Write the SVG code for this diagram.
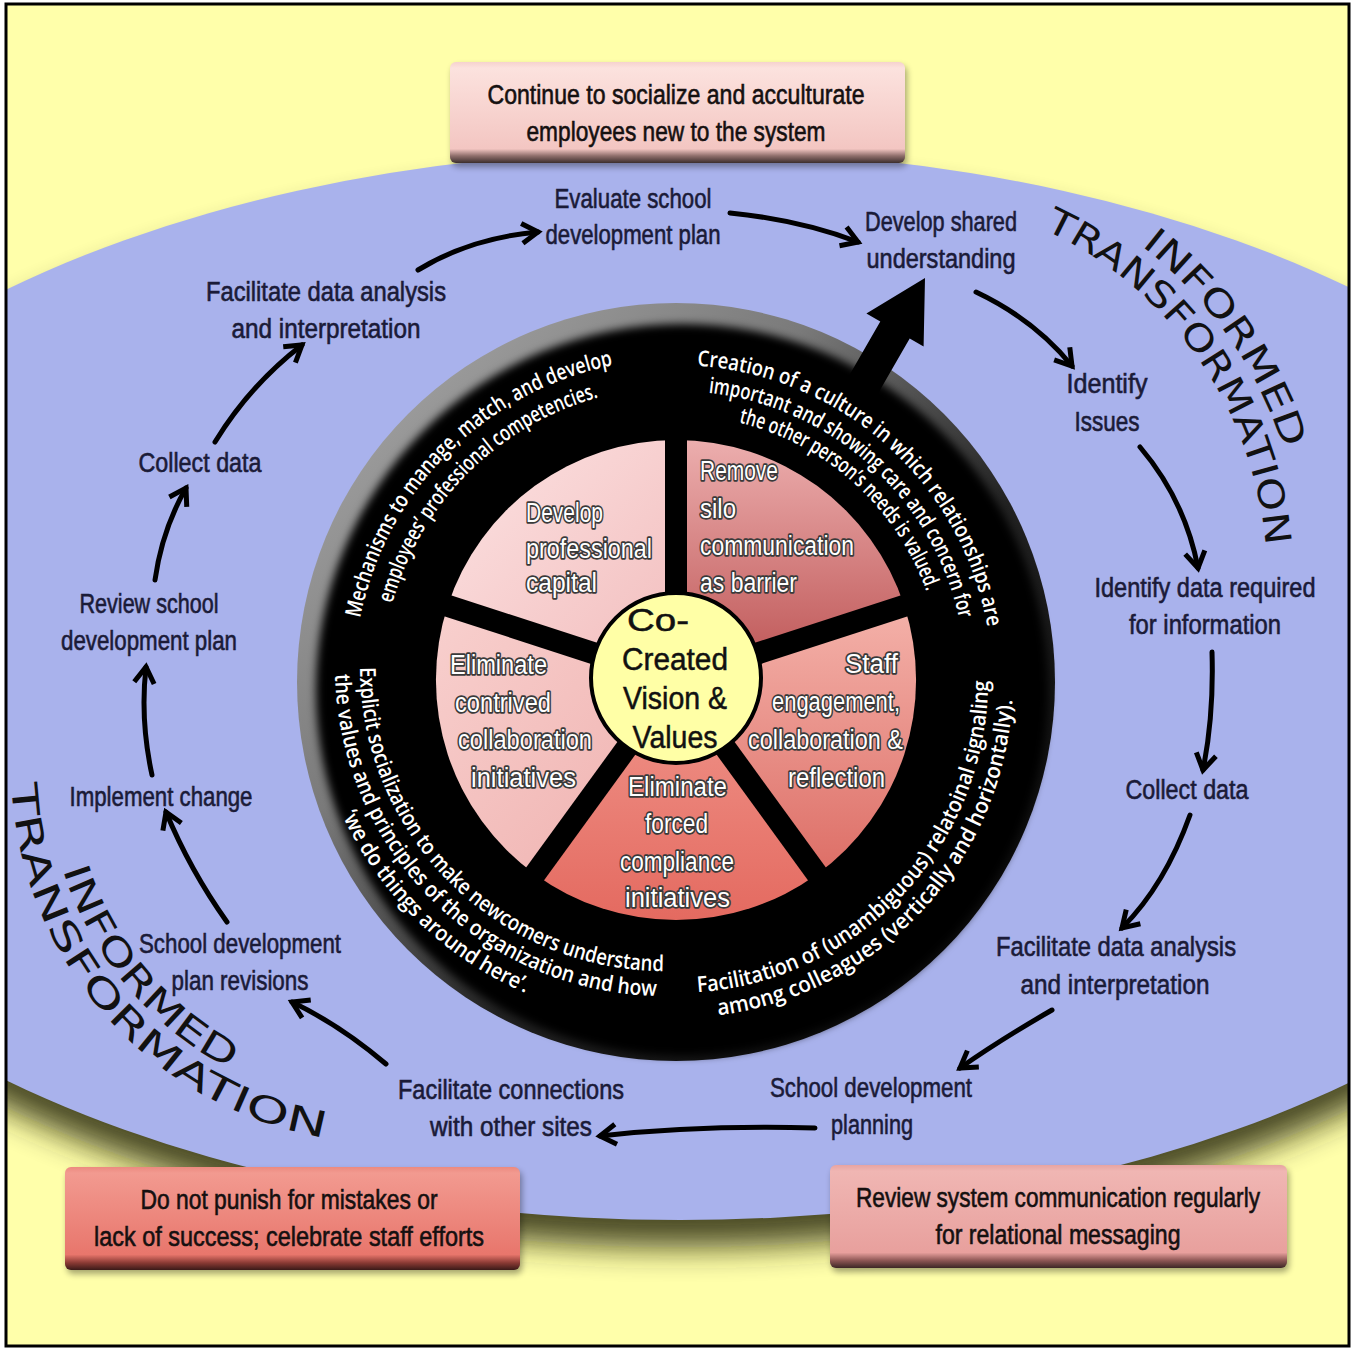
<svg xmlns="http://www.w3.org/2000/svg" width="1362" height="1350" viewBox="0 0 1362 1350">
<style>
.lbl{font-family:'Liberation Sans Narrow','Liberation Sans',sans-serif;font-size:27px;fill:#1b1b38;stroke:#1b1b38;stroke-width:0.6;text-anchor:middle}
.bx{font-family:'Liberation Sans Narrow','Liberation Sans',sans-serif;font-size:27px;fill:#151010;stroke:#151010;stroke-width:0.6;text-anchor:middle}
.ring{font-family:'Open Sans','Liberation Sans',sans-serif;font-size:22px;font-weight:600;fill:#fff;text-anchor:middle}
.wg{font-family:'Liberation Sans',sans-serif;font-size:27px;fill:#fff;stroke:#3a3a3a;stroke-width:3.5;paint-order:stroke;stroke-linejoin:round}
.ctr{font-family:'Liberation Sans',sans-serif;font-size:31px;fill:#111;stroke:#111;stroke-width:0.5}
.it{font-family:'DejaVu Sans',sans-serif;font-size:36px;fill:#111;text-anchor:middle}
.arr{fill:none;stroke:#000;stroke-width:5;stroke-linecap:round;marker-end:url(#chev)}
</style>
<defs>
<clipPath id="frame"><rect x="6" y="4" width="1343" height="1342"/></clipPath>
<filter id="blur18" x="-10%" y="-10%" width="120%" height="130%"><feGaussianBlur stdDeviation="16"/></filter>
<filter id="blur4"><feGaussianBlur stdDeviation="4"/></filter>
<filter id="blur3" x="-10%" y="-20%" width="120%" height="150%"><feGaussianBlur stdDeviation="3"/></filter>
<linearGradient id="gTop" x1="0" y1="0" x2="0" y2="1"><stop offset="0" stop-color="#F6D2CE"/><stop offset="0.06" stop-color="#FCE2DE"/><stop offset="0.86" stop-color="#F3C6C2"/><stop offset="0.93" stop-color="#8E6E6B"/><stop offset="1" stop-color="#3C2E2D"/></linearGradient>
<linearGradient id="gLeft" x1="0" y1="0" x2="0" y2="1"><stop offset="0" stop-color="#EC8A80"/><stop offset="0.06" stop-color="#F29A90"/><stop offset="0.85" stop-color="#E8766C"/><stop offset="0.93" stop-color="#8A3A34"/><stop offset="1" stop-color="#3A1A18"/></linearGradient>
<linearGradient id="gRight" x1="0" y1="0" x2="0" y2="1"><stop offset="0" stop-color="#E8A4A2"/><stop offset="0.06" stop-color="#F0B6B3"/><stop offset="0.85" stop-color="#E8A09D"/><stop offset="0.93" stop-color="#8A5452"/><stop offset="1" stop-color="#3C2625"/></linearGradient>
<linearGradient id="gRim" x1="0" y1="0" x2="1" y2="1"><stop offset="0" stop-color="#B0B0B0"/><stop offset="0.35" stop-color="#7A7A7A"/><stop offset="0.6" stop-color="#222"/><stop offset="1" stop-color="#000"/></linearGradient>
<linearGradient id="w1" x1="0" y1="0" x2="1" y2="1"><stop offset="0" stop-color="#FCE2E2"/><stop offset="1" stop-color="#F2BDBD"/></linearGradient>
<linearGradient id="w2" x1="0" y1="0" x2="0" y2="1"><stop offset="0" stop-color="#ECAEAE"/><stop offset="1" stop-color="#BC5252"/></linearGradient>
<linearGradient id="w3" x1="0" y1="0" x2="0" y2="1"><stop offset="0" stop-color="#F4B2AA"/><stop offset="1" stop-color="#DD6E66"/></linearGradient>
<linearGradient id="w4" x1="0" y1="0" x2="0" y2="1"><stop offset="0" stop-color="#F0968C"/><stop offset="1" stop-color="#E46A60"/></linearGradient>
<linearGradient id="w5" x1="0" y1="0" x2="1" y2="1"><stop offset="0" stop-color="#F8D0CE"/><stop offset="1" stop-color="#EFB0AE"/></linearGradient>
<marker id="chev" viewBox="0 0 26 26" refX="21" refY="13" markerWidth="26" markerHeight="26" markerUnits="userSpaceOnUse" orient="auto"><path d="M5,3 L21,13 L5,23" fill="none" stroke="#000" stroke-width="5"/></marker>
<path id="tl1" d="M358.9,736.9 A322,322 0 0 1 731.9,363.9"/>
<path id="tl2" d="M386.5,732.1 A294,294 0 0 1 727.1,391.5"/>
<path id="tr1" d="M604.9,373.1 A316,316 0 0 1 989.6,719.5"/>
<path id="tr2" d="M610.7,398.4 A290,290 0 0 1 963.8,716.4"/>
<path id="tr3" d="M616.1,421.8 A266,266 0 0 1 940.0,713.4"/>
<path id="br1" d="M632.6,990.0 A312,312 0 0 0 981.2,616.1"/>
<path id="br2" d="M629.1,1014.7 A337,337 0 0 0 1005.6,610.9"/>
<path id="bl1" d="M378.3,563.0 A304,304 0 0 0 768.0,952.7"/>
<path id="bl2" d="M354.8,554.5 A329,329 0 0 0 776.5,976.2"/>
<path id="bl3" d="M331.3,545.9 A354,354 0 0 0 785.1,999.7"/>
<path id="pTrT" d="M883,194 A384,384 0 0 1 1243.8,709.3"/>
<path id="pTrI" d="M883,157 A421,421 0 0 1 1278.6,722.0"/>
<path id="pBlT" d="M23.9,668.4 A377,377 0 0 0 440.5,1139.3"/>
<path id="pBlI" d="M59.8,671.9 A342,342 0 0 0 423.7,1106.1"/>
</defs>

<rect x="0" y="0" width="1362" height="1350" fill="#fff"/>
<rect x="6" y="4" width="1343" height="1342" fill="#FFFFAA"/>

<g id="background-ellipse" clip-path="url(#frame)">
<ellipse cx="680" cy="712" rx="1000" ry="535" fill="#2a2a10" opacity="0.85" filter="url(#blur18)"/>
<ellipse cx="680" cy="685" rx="1000" ry="535" fill="#A9B2EC"/>
</g>

<g id="node-continue">
<rect x="452" y="66" width="455" height="101" rx="6" fill="#000" opacity="0.35" filter="url(#blur3)"/>
<rect x="450" y="62" width="455" height="101" rx="6" fill="url(#gTop)"/>
<text class="bx" x="676" y="104" textLength="377" lengthAdjust="spacingAndGlyphs">Continue to socialize and acculturate</text>
<text class="bx" x="676" y="141" textLength="299" lengthAdjust="spacingAndGlyphs">employees new to the system</text>
</g>

<g id="node-do-not-punish">
<rect x="67" y="1171" width="455" height="103" rx="6" fill="#000" opacity="0.35" filter="url(#blur3)"/>
<rect x="65" y="1167" width="455" height="103" rx="6" fill="url(#gLeft)"/>
<text class="bx" x="289" y="1209" textLength="297" lengthAdjust="spacingAndGlyphs">Do not punish for mistakes or</text>
<text class="bx" x="289" y="1246" textLength="390" lengthAdjust="spacingAndGlyphs">lack of success; celebrate staff efforts</text>
</g>

<g id="node-review-system">
<rect x="832" y="1169" width="457" height="103" rx="6" fill="#000" opacity="0.35" filter="url(#blur3)"/>
<rect x="830" y="1165" width="457" height="103" rx="6" fill="url(#gRight)"/>
<text class="bx" x="1058" y="1207" textLength="404" lengthAdjust="spacingAndGlyphs">Review system communication regularly</text>
<text class="bx" x="1058" y="1244" textLength="245" lengthAdjust="spacingAndGlyphs">for relational messaging</text>
</g>

<g id="node-wheel">
<circle cx="676" cy="682" r="379" fill="url(#gRim)"/>
<circle cx="682" cy="690" r="366" fill="#000" filter="url(#blur4)"/>
<g id="wedges">
<path d="M676,680 L447.7,605.8 A240,240 0 0 1 676,440 Z" fill="url(#w1)"/>
<path d="M676,680 L676,440 A240,240 0 0 1 904.3,605.8 Z" fill="url(#w2)"/>
<path d="M676,680 L904.3,605.8 A240,240 0 0 1 817.1,874.2 Z" fill="url(#w3)"/>
<path d="M676,680 L817.1,874.2 A240,240 0 0 1 534.9,874.2 Z" fill="url(#w4)"/>
<path d="M676,680 L534.9,874.2 A240,240 0 0 1 447.7,605.8 Z" fill="url(#w5)"/>
<g stroke="#000" stroke-width="22">
<line x1="676" y1="680" x2="676" y2="430"/>
<line x1="676" y1="680" x2="913.8" y2="602.7"/>
<line x1="676" y1="680" x2="823" y2="882.3"/>
<line x1="676" y1="680" x2="529" y2="882.3"/>
<line x1="676" y1="680" x2="438.2" y2="602.7"/>
</g>
</g>
<circle cx="676" cy="678" r="85" fill="#FFFFA6" stroke="#000" stroke-width="4"/>
<text class="ctr" x="658" y="631" text-anchor="middle" textLength="62" lengthAdjust="spacingAndGlyphs">Co-</text>
<text class="ctr" x="675" y="670" text-anchor="middle" textLength="106" lengthAdjust="spacingAndGlyphs">Created</text>
<text class="ctr" x="675" y="709" text-anchor="middle" textLength="104" lengthAdjust="spacingAndGlyphs">Vision &amp;</text>
<text class="ctr" x="675" y="748" text-anchor="middle" textLength="85" lengthAdjust="spacingAndGlyphs">Values</text>

<g id="wedge-develop">
<text class="wg" x="526" y="522" textLength="77" lengthAdjust="spacingAndGlyphs">Develop</text>
<text class="wg" x="526" y="558" textLength="126" lengthAdjust="spacingAndGlyphs">professional</text>
<text class="wg" x="526" y="592" textLength="71" lengthAdjust="spacingAndGlyphs">capital</text>
</g>
<g id="wedge-remove">
<text class="wg" x="700" y="480" textLength="78" lengthAdjust="spacingAndGlyphs">Remove</text>
<text class="wg" x="700" y="518" textLength="36" lengthAdjust="spacingAndGlyphs">silo</text>
<text class="wg" x="700" y="555" textLength="154" lengthAdjust="spacingAndGlyphs">communication</text>
<text class="wg" x="700" y="592" textLength="97" lengthAdjust="spacingAndGlyphs">as barrier</text>
</g>
<g id="wedge-staff">
<text class="wg" x="845" y="673" textLength="53" lengthAdjust="spacingAndGlyphs">Staff</text>
<text class="wg" x="772" y="711" textLength="128" lengthAdjust="spacingAndGlyphs">engagement,</text>
<text class="wg" x="748" y="749" textLength="155" lengthAdjust="spacingAndGlyphs">collaboration &amp;</text>
<text class="wg" x="788" y="787" textLength="97" lengthAdjust="spacingAndGlyphs">reflection</text>
</g>
<g id="wedge-forced">
<text class="wg" x="628" y="796" textLength="99" lengthAdjust="spacingAndGlyphs">Eliminate</text>
<text class="wg" x="645" y="833" textLength="63" lengthAdjust="spacingAndGlyphs">forced</text>
<text class="wg" x="620" y="871" textLength="114" lengthAdjust="spacingAndGlyphs">compliance</text>
<text class="wg" x="625" y="907" textLength="105" lengthAdjust="spacingAndGlyphs">initiatives</text>
</g>
<g id="wedge-contrived">
<text class="wg" x="450" y="674" textLength="97" lengthAdjust="spacingAndGlyphs">Eliminate</text>
<text class="wg" x="455" y="712" textLength="96" lengthAdjust="spacingAndGlyphs">contrived</text>
<text class="wg" x="458" y="749" textLength="134" lengthAdjust="spacingAndGlyphs">collaboration</text>
<text class="wg" x="471" y="787" textLength="105" lengthAdjust="spacingAndGlyphs">initiatives</text>
</g>

<g id="ring-texts">
<text class="ring"><textPath href="#tl1" startOffset="50%" textLength="379" lengthAdjust="spacingAndGlyphs">Mechanisms to manage, match, and develop</textPath></text>
<text class="ring"><textPath href="#tl2" startOffset="50%" textLength="305" lengthAdjust="spacingAndGlyphs">employees’ professional competencies.</textPath></text>
<text class="ring"><textPath href="#tr1" startOffset="50%" textLength="421" lengthAdjust="spacingAndGlyphs">Creation of a culture in which relationships are</textPath></text>
<text class="ring"><textPath href="#tr2" startOffset="50%" textLength="360" lengthAdjust="spacingAndGlyphs">important and showing care and concern for</textPath></text>
<text class="ring"><textPath href="#tr3" startOffset="50%" textLength="263" lengthAdjust="spacingAndGlyphs">the other person’s needs is valued.</textPath></text>
<text class="ring"><textPath href="#br1" startOffset="50%" textLength="469" lengthAdjust="spacingAndGlyphs">Facilitation of (unambiguous) relatoinal signaling</textPath></text>
<text class="ring"><textPath href="#br2" startOffset="50%" textLength="468" lengthAdjust="spacingAndGlyphs">among colleagues (vertically and horizontally).</textPath></text>
<text class="ring"><textPath href="#bl1" startOffset="50%" textLength="477" lengthAdjust="spacingAndGlyphs">Explicit socialization to make newcomers understand</textPath></text>
<text class="ring"><textPath href="#bl2" startOffset="50%" textLength="502" lengthAdjust="spacingAndGlyphs">the values and principles of the organization and how</textPath></text>
<text class="ring"><textPath href="#bl3" startOffset="50.6%" textLength="262" lengthAdjust="spacingAndGlyphs">‘we do things around here’.</textPath></text>
</g>
</g>

<g id="node-evaluate"><text class="lbl" x="633" y="208" textLength="157" lengthAdjust="spacingAndGlyphs">Evaluate school</text><text class="lbl" x="633" y="244" textLength="175" lengthAdjust="spacingAndGlyphs">development plan</text></g>
<g id="node-develop-shared"><text class="lbl" x="941" y="231" textLength="152" lengthAdjust="spacingAndGlyphs">Develop shared</text><text class="lbl" x="941" y="268" textLength="149" lengthAdjust="spacingAndGlyphs">understanding</text></g>
<g id="node-identify-issues"><text class="lbl" x="1107" y="393" textLength="81" lengthAdjust="spacingAndGlyphs">Identify</text><text class="lbl" x="1107" y="431" textLength="65" lengthAdjust="spacingAndGlyphs">Issues</text></g>
<g id="node-identify-data"><text class="lbl" x="1205" y="597" textLength="221" lengthAdjust="spacingAndGlyphs">Identify data required</text><text class="lbl" x="1205" y="634" textLength="152" lengthAdjust="spacingAndGlyphs">for information</text></g>
<g id="node-collect-right"><text class="lbl" x="1187" y="799" textLength="123" lengthAdjust="spacingAndGlyphs">Collect data</text></g>
<g id="node-facilitate-right"><text class="lbl" x="1116" y="956" textLength="240" lengthAdjust="spacingAndGlyphs">Facilitate data analysis</text><text class="lbl" x="1115" y="994" textLength="189" lengthAdjust="spacingAndGlyphs">and interpretation</text></g>
<g id="node-sdp"><text class="lbl" x="871" y="1097" textLength="202" lengthAdjust="spacingAndGlyphs">School development</text><text class="lbl" x="872" y="1134" textLength="82" lengthAdjust="spacingAndGlyphs">planning</text></g>
<g id="node-connections"><text class="lbl" x="511" y="1099" textLength="226" lengthAdjust="spacingAndGlyphs">Facilitate connections</text><text class="lbl" x="511" y="1136" textLength="162" lengthAdjust="spacingAndGlyphs">with other sites</text></g>
<g id="node-sdp-revisions"><text class="lbl" x="240" y="953" textLength="202" lengthAdjust="spacingAndGlyphs">School development</text><text class="lbl" x="240" y="990" textLength="137" lengthAdjust="spacingAndGlyphs">plan revisions</text></g>
<g id="node-implement"><text class="lbl" x="161" y="806" textLength="183" lengthAdjust="spacingAndGlyphs">Implement change</text></g>
<g id="node-review"><text class="lbl" x="149" y="613" textLength="139" lengthAdjust="spacingAndGlyphs">Review school</text><text class="lbl" x="149" y="650" textLength="176" lengthAdjust="spacingAndGlyphs">development plan</text></g>
<g id="node-collect-left"><text class="lbl" x="200" y="472" textLength="123" lengthAdjust="spacingAndGlyphs">Collect data</text></g>
<g id="node-facilitate-left"><text class="lbl" x="326" y="301" textLength="240" lengthAdjust="spacingAndGlyphs">Facilitate data analysis</text><text class="lbl" x="326" y="338" textLength="189" lengthAdjust="spacingAndGlyphs">and interpretation</text></g>

<g id="label-informed-tr">
<text class="it"><textPath href="#pTrI" startOffset="50%" textLength="252" lengthAdjust="spacingAndGlyphs">INFORMED</textPath></text>
<text class="it"><textPath href="#pTrT" startOffset="50%" textLength="405" lengthAdjust="spacingAndGlyphs">TRANSFORMATION</textPath></text>
</g>
<g id="label-informed-bl">
<text class="it"><textPath href="#pBlI" startOffset="50%" textLength="266" lengthAdjust="spacingAndGlyphs">INFORMED</textPath></text>
<text class="it"><textPath href="#pBlT" startOffset="50%" textLength="510" lengthAdjust="spacingAndGlyphs">TRANSFORMATION</textPath></text>
</g>

<g id="connectors">
<path class="arr" d="M418,270 Q470,238 538,232"/>
<path class="arr" d="M730,213 Q800,220 858,242"/>
<path class="arr" d="M976,292 Q1035,320 1072,366"/>
<path class="arr" d="M1140,447 Q1185,500 1198,568"/>
<path class="arr" d="M1212,652 Q1214,715 1203,770"/>
<path class="arr" d="M1190,815 Q1165,885 1122,928"/>
<path class="arr" d="M1052,1010 Q1000,1040 960,1068"/>
<path class="arr" d="M815,1128 Q700,1125 600,1136"/>
<path class="arr" d="M386,1064 Q340,1025 292,1002"/>
<path class="arr" d="M227,922 Q190,870 166,812"/>
<path class="arr" d="M152,775 Q140,720 146,667"/>
<path class="arr" d="M155,580 Q162,530 186,488"/>
<path class="arr" d="M215,442 Q250,385 302,345"/>
<polygon id="big-arrow" points="925,278 866.4,313.5 880.3,321.5 845.3,382.2 874.7,399.2 909.7,338.5 923.6,346.5" fill="#000"/>
</g>

<rect x="6" y="4" width="1343" height="1342" fill="none" stroke="#000" stroke-width="3"/>
</svg>
